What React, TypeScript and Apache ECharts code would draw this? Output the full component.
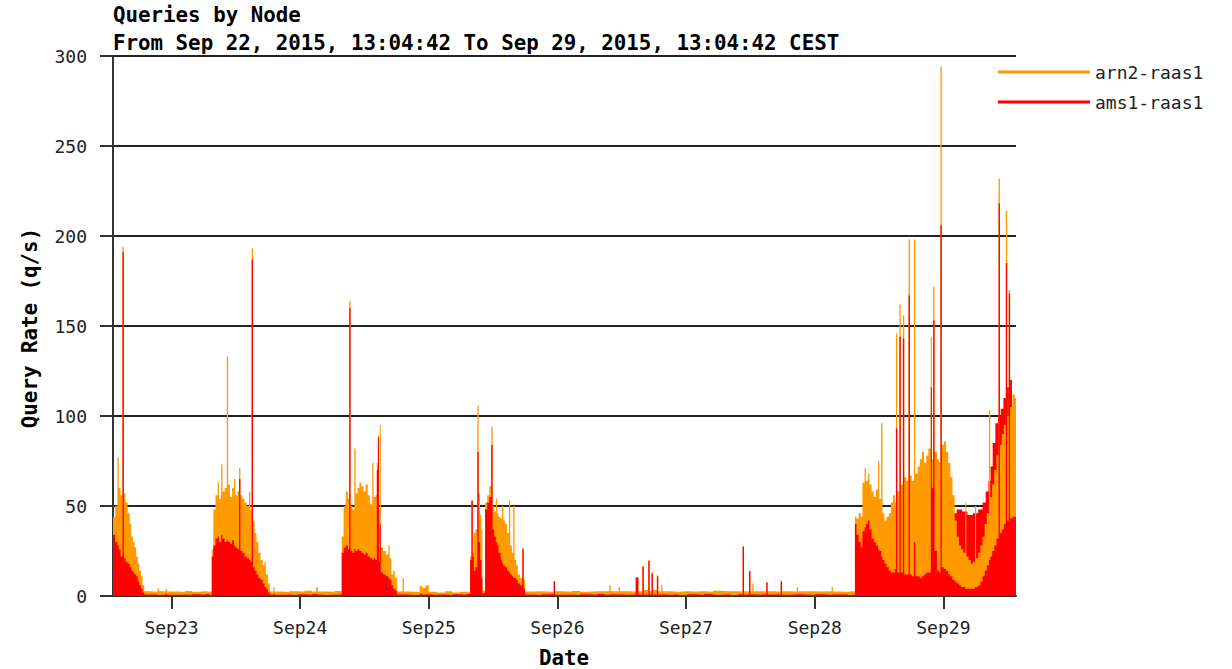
import React, { useEffect, useRef } from "react";
import * as echarts from "echarts";

// ---- text ----
const titleLines = [
  "Queries by Node",
  "From Sep 22, 2015, 13:04:42 To Sep 29, 2015, 13:04:42 CEST",
];
const yAxisTitle = "Query Rate (q/s)";
const xAxisTitle = "Date";
const legendNames = ["arn2-raas1", "ams1-raas1"];

// x axis: hours since Sep 22 2015 00:00 CEST
const xStart = 13.08;
const xEnd = 181.55;
const dayTicks = [24, 48, 72, 96, 120, 144, 168];
const dayLabels = ["Sep23", "Sep24", "Sep25", "Sep26", "Sep27", "Sep28", "Sep29"];
const yMax = 300;
const yStep = 50;

// ---- data: [hour, ams1-raas1 q/s, arn2-raas1 q/s (stacked on ams1)] ----
const burstSep22 = [
  [13.08, 34, 10], [13.5, 30, 20], [13.9, 28, 49], [14.15, 26, 34], [14.5, 22, 34],
  [14.85, 191, 3], [15.1, 21, 36], [15.4, 19, 33], [15.8, 18, 28], [16.2, 16, 24],
  [16.5, 14, 19], [16.8, 13, 17], [17.1, 12, 15], [17.4, 11, 11], [17.7, 8, 10],
  [18.0, 6, 8], [18.3, 4, 7], [18.6, 2, 4],
];
const quietSep22 = [
  [18.9, 0.8, 1.8], [19.9, 1.0, 1.4], [21.4, 0.6, 3.4], [21.7, 0.8, 1.9], [22.9, 1.2, 2.8],
  [23.2, 0.7, 1.8], [25.0, 0.9, 1.4], [26.5, 0.6, 2.2], [27.8, 1.0, 1.3], [29.0, 0.7, 1.9],
  [30.4, 1.1, 1.2], [31.1, 0.6, 2.0],
];
const burstSep23 = [
  [31.5, 22, 4], [31.8, 28, 20], [32.2, 32, 24], [32.6, 33, 30], [32.85, 30, 24],
  [33.25, 34, 39], [33.5, 32, 26], [33.9, 30, 30], [34.3, 31, 102], [34.55, 30, 32],
  [34.9, 29, 26], [35.3, 31, 29], [35.65, 28, 37], [35.9, 27, 29], [36.3, 26, 32],
  [36.6, 65, 6], [36.85, 25, 31], [37.2, 24, 30], [37.6, 22, 30], [38.0, 21, 29],
  [38.45, 20, 38], [38.7, 19, 29], [38.95, 187, 6], [39.2, 16, 26], [39.5, 14, 21],
  [39.85, 12, 18], [40.2, 10, 14], [40.6, 9, 11], [41.0, 7, 10], [41.35, 5, 14],
  [41.6, 4, 8], [42.0, 2, 5],
];
const quietSep23 = [
  [42.35, 0.8, 1.7], [43.0, 1.2, 3.8], [43.25, 0.7, 1.8], [44.6, 0.9, 1.3], [46.0, 0.6, 2.0],
  [47.5, 1.0, 1.5], [48.8, 0.7, 2.2], [50.2, 1.1, 1.4], [51.0, 0.8, 4.2], [51.3, 0.6, 1.9],
  [53.0, 0.9, 1.5], [54.4, 0.7, 2.1], [55.3, 1.0, 1.6],
];
const burstSep24 = [
  [55.75, 24, 9], [56.1, 27, 23], [56.5, 28, 30], [56.9, 26, 28], [57.15, 160, 4],
  [57.4, 25, 25], [57.75, 24, 24], [58.1, 26, 56], [58.35, 25, 32], [58.7, 26, 34],
  [59.05, 25, 38], [59.4, 24, 37], [59.8, 23, 35], [60.2, 24, 38], [60.6, 22, 34],
  [61.0, 21, 30], [61.45, 20, 54], [61.7, 21, 34], [62.05, 20, 36], [62.3, 70, 4],
  [62.5, 88, 1], [62.7, 19, 29], [62.85, 40, 55], [63.05, 13, 14], [63.5, 12, 13],
  [64.0, 11, 12], [64.45, 10, 18], [64.7, 9, 12], [65.0, 6, 6], [65.35, 4, 10],
  [65.65, 3, 7],
];
const quietSep24 = [
  [66.05, 0.8, 1.7], [67.1, 1.0, 9.0], [67.35, 0.7, 1.8], [68.6, 0.6, 1.6], [70.3, 1.2, 4.3],
  [70.8, 0.8, 3.7], [71.4, 1.0, 4.8], [72.0, 0.7, 1.7], [73.5, 0.9, 1.1], [75.0, 0.6, 2.0],
  [76.4, 1.0, 0.9], [77.8, 0.7, 1.6], [79.0, 1.1, 0.9],
];
const burstSep25 = [
  [79.7, 20, 2], [79.95, 53, 0], [80.2, 22, 2], [80.4, 14, 21], [80.7, 16, 21],
  [81.05, 80, 26], [81.3, 30, 27], [81.55, 20, 25], [81.8, 10, 27], [82.0, 1.5, 1.5],
  [82.5, 48, 4], [82.9, 52, 4], [83.3, 55, 6], [83.65, 84, 10], [83.9, 37, 13],
  [84.2, 33, 14], [84.5, 30, 24], [84.75, 28, 18], [85.0, 24, 20], [85.4, 20, 23],
  [85.65, 18, 32], [85.9, 17, 25], [86.2, 16, 24], [86.6, 14, 21], [86.95, 13, 40],
  [87.2, 12, 16], [87.5, 11, 13], [87.75, 10, 40], [88.0, 10, 10], [88.3, 9, 8],
  [88.6, 7, 5], [89.0, 6, 4], [89.45, 26, 1], [89.7, 4, 5],
];
const quietSep25to28 = [
  [89.95, 0.8, 1.7], [91.5, 0.6, 2.0], [93.0, 1.0, 1.4], [95.3, 8.0, 0.3], [95.55, 0.7, 1.9],
  [97.0, 0.9, 1.5], [98.6, 0.6, 2.2], [100.2, 1.0, 1.3], [101.8, 0.7, 1.9], [103.4, 1.1, 1.5],
  [104.8, 0.7, 2.1], [105.7, 1.0, 5.0], [105.95, 0.8, 1.8], [107.4, 1.0, 4.0], [107.65, 0.7, 1.9],
  [109.0, 0.9, 1.6], [110.6, 10.2, 0.4], [111.1, 0.8, 1.9], [111.85, 16.3, 0.5], [112.1, 0.9, 2.5],
  [112.95, 19.4, 0.6], [113.2, 1.0, 1.8], [113.55, 12.6, 0.4], [113.8, 0.8, 2.6], [114.55, 11.0, 0.5],
  [114.8, 0.9, 1.8], [115.35, 1.0, 5.0], [115.6, 0.7, 1.9], [117.0, 1.0, 1.4], [118.6, 0.6, 2.1],
  [120.2, 1.0, 1.5], [121.8, 0.7, 2.0], [123.4, 1.1, 1.3], [125.0, 0.7, 2.2], [126.6, 1.0, 1.6],
  [128.2, 0.6, 2.0], [129.6, 1.0, 1.5], [130.55, 27.4, 0.4], [130.8, 0.8, 1.9], [131.75, 13.7, 0.3],
  [132.0, 0.9, 1.6], [132.35, 1.0, 6.0], [132.6, 0.7, 2.0], [133.8, 1.0, 1.5], [134.95, 7.4, 0.4],
  [135.2, 0.8, 1.9], [136.4, 1.0, 1.4], [137.65, 8.1, 0.4], [137.9, 0.7, 2.0], [139.2, 1.0, 1.5],
  [140.65, 1.0, 4.0], [140.9, 0.8, 1.8], [142.4, 0.6, 2.1], [144.0, 1.0, 1.5], [145.6, 0.7, 2.0],
  [147.15, 1.0, 4.0], [147.4, 0.8, 1.7], [148.8, 1.0, 1.4], [150.2, 0.6, 2.0], [151.0, 0.9, 1.6],
];
const burstSep28 = [
  [151.5, 40, 4], [151.8, 34, 9], [152.2, 30, 16], [152.6, 27, 17], [152.9, 36, 27],
  [153.3, 38, 33], [153.55, 40, 24], [153.9, 42, 26], [154.2, 37, 25], [154.6, 32, 26],
  [155.0, 30, 25], [155.4, 28, 31], [155.8, 26, 49], [156.05, 25, 29], [156.4, 22, 74],
  [156.65, 20, 26], [157.0, 18, 24], [157.4, 16, 28], [157.8, 14, 32], [158.2, 13, 39],
  [158.6, 13, 43], [158.95, 15, 37], [159.15, 93, 53], [159.4, 13, 45], [159.8, 144, 18],
  [160.05, 13, 49], [160.45, 143, 13], [160.7, 12, 54], [161.1, 12, 52], [161.5, 167, 31],
  [161.75, 12, 55], [162.1, 11, 53], [162.5, 30, 168], [162.75, 11, 57], [163.2, 11, 61],
  [163.6, 10, 66], [164.0, 11, 69], [164.4, 12, 62], [164.8, 13, 65], [165.2, 13, 69],
  [165.65, 116, 28], [165.85, 60, 16], [166.1, 153, 19], [166.35, 25, 55], [166.8, 14, 62],
  [167.2, 13, 61], [167.45, 206, 88],
];
const burstSep29 = [
  [167.7, 16, 68], [168.1, 15, 71], [168.5, 14, 66], [168.9, 12, 62], [169.3, 11, 55],
  [169.7, 9, 47], [170.1, 8, 34], [170.5, 7, 26], [170.9, 6, 22], [171.3, 5, 21],
  [171.7, 5, 19], [172.1, 4, 48], [172.3, 4, 18], [172.7, 4, 16], [173.1, 4, 14],
  [173.5, 4, 15], [173.9, 5, 45], [174.1, 5, 16], [174.5, 6, 18], [174.9, 8, 20],
  [175.3, 11, 22], [175.7, 14, 26], [176.1, 17, 29], [176.5, 20, 83], [176.75, 22, 33],
  [177.1, 25, 37], [177.5, 28, 42], [177.9, 32, 46], [178.3, 218, 14], [178.55, 35, 49],
  [178.9, 37, 53], [179.3, 40, 55], [179.65, 185, 29], [179.9, 42, 58], [180.2, 168, 2],
  [180.45, 43, 62], [180.9, 44, 68], [181.3, 44, 66], [181.55, 44, 66],
];
// ams1-raas1 samples that were over-drawn behind later samples (visible as a red band)
const ams1OverdrawSep29 = [
  [13.08, 0], [169.9, 46], [170.5, 48], [171.5, 47], [172.5, 45], [173.5, 46],
  [174.5, 48], [175.3, 52], [175.9, 58], [176.4, 64], [176.8, 72], [177.2, 85],
  [177.7, 96], [178.2, 100], [178.7, 104], [179.2, 110], [179.8, 116], [180.3, 120],
  [180.8, 100], [181.55, 100],
];

const ORANGE = "#ff9a00";
const RED = "#ff0000";
const MONO = '"DejaVu Sans Mono", "Liberation Mono", monospace';

export default function App() {
  const ref = useRef<HTMLDivElement>(null);

  useEffect(() => {
    if (!ref.current) return;
    const chart = echarts.init(ref.current, undefined, { renderer: "svg" });
    const rows = [
      ...burstSep22, ...quietSep22, ...burstSep23, ...quietSep23, ...burstSep24,
      ...quietSep24, ...burstSep25, ...quietSep25to28, ...burstSep28, ...burstSep29,
    ];
    // ams1 at the bottom, arn2 stacked on top of it (top of stack = ams1 + arn2)
    const ams1Data = rows.map((r) => [r[0], r[1]]);
    const stackTopData = rows.map((r) => [r[0], r[1] + r[2]]);
    const titleFont = `bold 20.8px ${MONO}`;
    const textStyleCommon = { fill: "#000" };

    const areaSeries = (name: string, data: number[][], color: string, z: number) => ({
      name,
      type: "line",
      step: "end",
      data,
      symbol: "none",
      showSymbol: false,
      color,
      lineStyle: { width: 0, color },
      areaStyle: { color, opacity: 1 },
      silent: true,
      z,
    });

    chart.setOption({
      animation: false,
      backgroundColor: "#ffffff",
      grid: { left: 113, right: 216, top: 56, bottom: 73, containLabel: false },
      legend: {
        data: legendNames,
        orient: "vertical",
        left: 993,
        top: 57,
        icon: "rect",
        itemWidth: 92,
        itemHeight: 3,
        itemGap: 10,
        selectedMode: false,
        textStyle: { fontFamily: MONO, fontSize: 18, color: "#222", lineHeight: 20 },
      },
      xAxis: {
        type: "value",
        min: xStart,
        max: xEnd,
        axisLine: { show: true, onZero: false, lineStyle: { color: "#333", width: 2 } },
        axisTick: {
          show: true,
          customValues: dayTicks,
          length: 13,
          inside: false,
          lineStyle: { color: "#333", width: 2 },
        },
        axisLabel: {
          show: true,
          customValues: dayTicks,
          margin: 22,
          fontFamily: MONO,
          fontSize: 18,
          color: "#222",
          formatter: (v: number) => {
            const i = dayTicks.indexOf(Math.round(v));
            return i >= 0 ? dayLabels[i] : "";
          },
        },
        splitLine: { show: false },
      },
      yAxis: {
        type: "value",
        min: 0,
        max: yMax,
        interval: yStep,
        axisLine: { show: true, lineStyle: { color: "#333", width: 2 } },
        axisTick: { show: true, length: 13, inside: false, lineStyle: { color: "#333", width: 2 } },
        axisLabel: { margin: 26, fontFamily: MONO, fontSize: 18, color: "#222" },
        splitLine: { show: true, lineStyle: { color: "#222", width: 2 } },
      },
      graphic: [
        {
          type: "text", x: 113, y: 15,
          style: { ...textStyleCommon, text: titleLines[0], font: titleFont, textAlign: "left", align: "left", textVerticalAlign: "middle", verticalAlign: "middle" },
        },
        {
          type: "text", x: 113, y: 43,
          style: { ...textStyleCommon, text: titleLines[1], font: titleFont, textAlign: "left", align: "left", textVerticalAlign: "middle", verticalAlign: "middle" },
        },
        {
          type: "text", x: 30, y: 328, rotation: Math.PI / 2,
          style: { ...textStyleCommon, text: yAxisTitle, font: titleFont, textAlign: "center", align: "center", textVerticalAlign: "middle", verticalAlign: "middle" },
        },
        {
          type: "text", x: 564, y: 658,
          style: { ...textStyleCommon, text: xAxisTitle, font: titleFont, textAlign: "center", align: "center", textVerticalAlign: "middle", verticalAlign: "middle" },
        },
      ],
      series: [
        areaSeries(legendNames[1], ams1OverdrawSep29, RED, 2),
        areaSeries(legendNames[0], stackTopData, ORANGE, 3),
        areaSeries(legendNames[1], ams1Data, RED, 4),
      ],
    });
    return () => chart.dispose();
  }, []);

  return (
    <div
      ref={ref}
      style={{ position: "fixed", left: 0, top: 0, width: 1232, height: 669, background: "#fff" }}
    />
  );
}
